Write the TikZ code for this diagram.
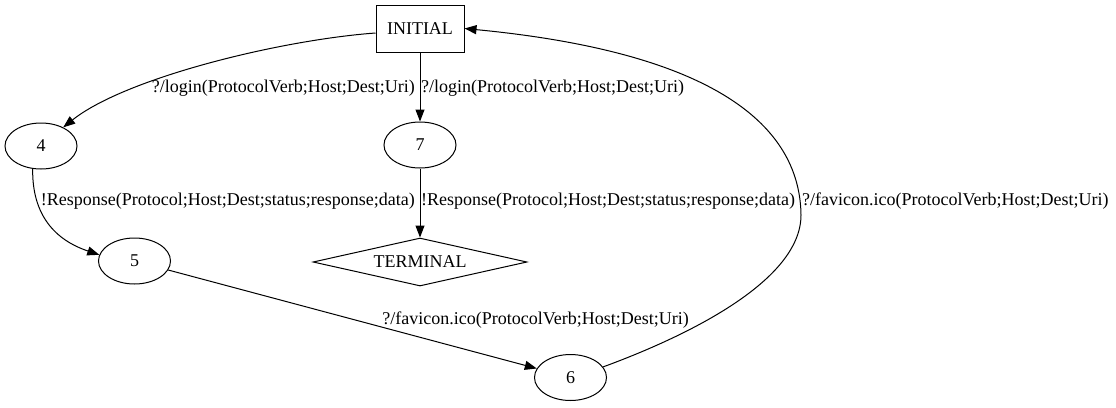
\documentclass[tikz,border=0pt]{standalone}
\usepackage{fontspec}
\setmainfont{Liberation Serif}
\usetikzlibrary{shapes.geometric,arrows.meta}
\tikzset{
  every node/.style={font=\fontsize{18}{21}\selectfont},
  statenode/.style={draw,ellipse,line width=1pt,minimum width=72pt,minimum height=46pt,inner sep=0pt},
  initbox/.style={draw,rectangle,line width=1pt,minimum width=88pt,minimum height=47pt,inner sep=0pt},
  termbox/.style={draw,diamond,aspect=4.5,line width=1pt,minimum width=214pt,minimum height=48pt,inner sep=0pt},
  arr/.style={draw,line width=1pt,-{Triangle[length=12pt,width=9pt]}},
  lbl/.style={inner sep=0pt}
}
\begin{document}
\begin{tikzpicture}[x=1pt,y=-1pt]
\useasboundingbox (0,0) rectangle (1116,407);
\node[initbox] (init) at (420,28.5) {INITIAL};
\node[statenode] (n4) at (41,146) {4};
\node[statenode] (n7) at (420,145) {7};
\node[statenode] (n5) at (134.5,261) {5};
\node[termbox] (term) at (420,262) {TERMINAL};
\node[statenode] (n6) at (570.5,377.5) {6};
\coordinate (w6) at (801,215);

\draw[arr] ([yshift=-4.5pt]init.west) .. controls (280,40) and (125,78) .. (n4.40);
\draw[arr] (init.south) -- (n7.north);
\draw[arr] (n4.250) .. controls (32,215) and (55,240) .. (n5.170);
\draw[arr] (n7.south) -- (term.north);
\draw[arr] (n5) -- (n6);
\draw[arr] (n6.18) .. controls (690,335) and (801,280) .. (w6) .. controls (800,140) and (740,55) .. (init.east);

\node[lbl,anchor=east] (l1) at (415,88) {?/login(ProtocolVerb;Host;Dest;Uri)};
\node[lbl,anchor=west] (l2) at (421,88) {?/login(ProtocolVerb;Host;Dest;Uri)};
\node[lbl,anchor=east] (l3) at (415,201) {!Response(Protocol;Host;Dest;status;response;data)};
\node[lbl,anchor=west] (l4) at (421,201) {!Response(Protocol;Host;Dest;status;response;data)};
\node[lbl,anchor=west] (l5) at (802,201) {?/favicon.ico(ProtocolVerb;Host;Dest;Uri)};
\node[lbl,anchor=east] (l6) at (689,320) {?/favicon.ico(ProtocolVerb;Host;Dest;Uri)};
\end{tikzpicture}
\end{document}
